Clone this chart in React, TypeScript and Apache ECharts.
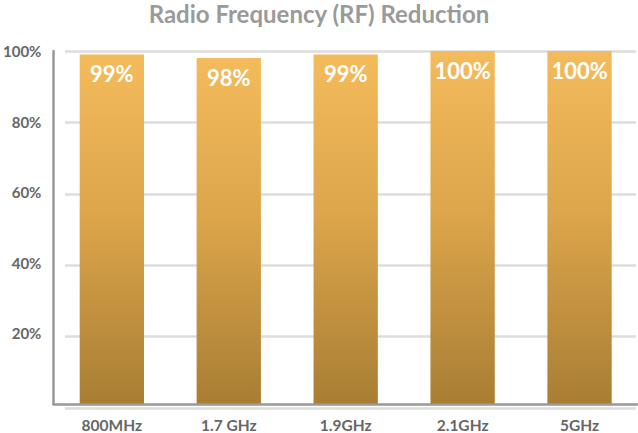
import React, { useEffect, useRef } from "react";
import * as echarts from "echarts";

const categories = ["800MHz", "1.7 GHz", "1.9GHz", "2.1GHz", "5GHz"];
const reduction = [99, 98, 99, 100, 100];
const yTicks = [0, 20, 40, 60, 80, 100];

export default function App() {
  const ref = useRef<HTMLDivElement>(null);
  useEffect(() => {
    if (!ref.current) return;
    const chart = echarts.init(ref.current, undefined, { renderer: "svg" });
    const font = "Lato, 'Open Sans', sans-serif";
    chart.setOption({
      animation: false,
      title: {
        text: "Radio Frequency (RF) Reduction",
        left: "center",
        top: -4,
        textStyle: { fontFamily: font, fontSize: 24, fontWeight: "bold", color: "#9a9a9a" },
      },
      grid: [
        { left: 52, right: 0, top: 51, bottom: 25, containLabel: false },
        { left: 65, right: 2, top: 51, bottom: 25, containLabel: false },
      ],
      xAxis: [
        {
          type: "category",
          gridIndex: 0,
          data: categories,
          axisLine: { show: true, lineStyle: { color: "#999", width: 2.5 } },
          axisTick: { show: false },
          axisLabel: { fontFamily: font, fontSize: 15.5, fontWeight: "bold", color: "#666", margin: 13 },
          z: 5,
        },
        {
          type: "value",
          gridIndex: 1,
          show: false,
          min: 0,
          max: 1,
          splitLine: { show: false },
        },
      ],
      yAxis: [
        {
          type: "value",
          gridIndex: 0,
          min: yTicks[0],
          max: yTicks[yTicks.length - 1],
          interval: 20,
          axisLine: { show: true, lineStyle: { color: "#999", width: 2.5 } },
          axisTick: { show: false },
          splitLine: { show: false },
          axisLabel: {
            fontFamily: font,
            fontSize: 15,
            fontWeight: "bold",
            color: "#666",
            margin: 12,
            formatter: (v: number) => (v === 0 ? "" : v + "%"),
          },
          z: 5,
        },
        {
          type: "value",
          gridIndex: 1,
          min: yTicks[0],
          max: yTicks[yTicks.length - 1],
          interval: 20,
          axisLine: { show: false },
          axisTick: { show: false },
          axisLabel: { show: false },
          splitLine: { show: true, lineStyle: { color: "#dddddd", width: 2.5 } },
        },
      ],
      series: [
        {
          type: "bar",
          xAxisIndex: 0,
          yAxisIndex: 0,
          data: reduction,
          barWidth: "55%",
          z: 3,
          itemStyle: {
            color: new echarts.graphic.LinearGradient(0, 0, 0, 1, [
              { offset: 0, color: "#f4bb5c" },
              { offset: 0.45, color: "#dda64b" },
              { offset: 1, color: "#a87e34" },
            ]),
          },
          label: {
            show: true,
            position: "insideTop",
            distance: 8,
            formatter: "{c}%",
            fontFamily: font,
            fontSize: 22,
            fontWeight: "bold",
            color: "#ffffff",
          },
        },
      ],
    });
    return () => chart.dispose();
  }, []);
  return <div ref={ref} style={{ width: 638, height: 433, position: "absolute", left: 0, top: 0 }} />;
}
